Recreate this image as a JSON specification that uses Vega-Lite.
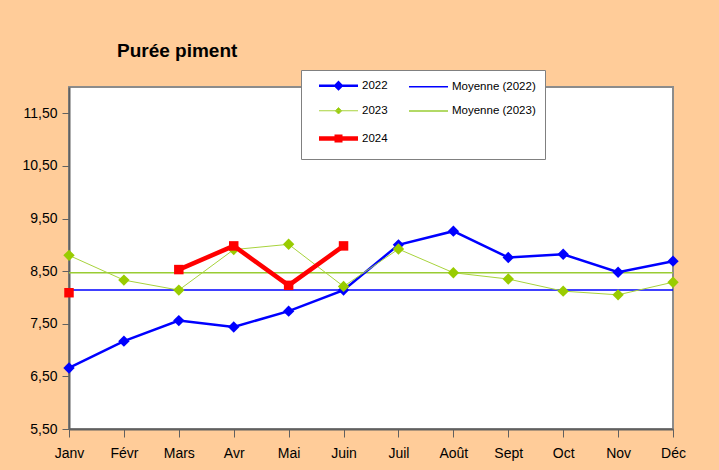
{
  "$schema": "https://vega.github.io/schema/vega-lite/v6.json",
  "autosize": {"type": "none"},
  "padding": {"left": 69, "top": 87, "right": 46, "bottom": 41},
  "width": 604,
  "height": 342,
  "background": "#FFCC99",
  "view": {"fill": "#FFFFFF", "stroke": "#8c8c8c", "strokeWidth": 2},
  "config": {
    "font": "Liberation Sans",
    "view": {"fill": "#FFFFFF", "stroke": "#8c8c8c", "strokeWidth": 2},
    "axis": {"labelFont": "Liberation Sans", "labelColor": "#000000", "labelFontSize": 14, "domainColor": "#606060", "domainWidth": 2, "tickColor": "#606060", "tickWidth": 1, "tickSize": 7, "grid": false, "title": null}
  },
  "title": {
    "text": "Purée piment",
    "anchor": "start",
    "frame": "group",
    "dx": 48,
    "offset": -6,
    "baseline": "alphabetic",
    "font": "Liberation Sans",
    "fontSize": 19,
    "fontWeight": "bold",
    "color": "#000000"
  },
  "datasets": {
    "prices": [
      {"month": "Janv", "series": "2022", "value": 6.66},
      {"month": "Févr", "series": "2022", "value": 7.17},
      {"month": "Mars", "series": "2022", "value": 7.56},
      {"month": "Avr", "series": "2022", "value": 7.44},
      {"month": "Mai", "series": "2022", "value": 7.74},
      {"month": "Juin", "series": "2022", "value": 8.14},
      {"month": "Juil", "series": "2022", "value": 9.00},
      {"month": "Août", "series": "2022", "value": 9.26},
      {"month": "Sept", "series": "2022", "value": 8.76},
      {"month": "Oct", "series": "2022", "value": 8.82},
      {"month": "Nov", "series": "2022", "value": 8.48},
      {"month": "Déc", "series": "2022", "value": 8.69},
      {"month": "Janv", "series": "2023", "value": 8.80},
      {"month": "Févr", "series": "2023", "value": 8.33},
      {"month": "Mars", "series": "2023", "value": 8.14},
      {"month": "Avr", "series": "2023", "value": 8.91},
      {"month": "Mai", "series": "2023", "value": 9.01},
      {"month": "Juin", "series": "2023", "value": 8.21},
      {"month": "Juil", "series": "2023", "value": 8.92},
      {"month": "Août", "series": "2023", "value": 8.47},
      {"month": "Sept", "series": "2023", "value": 8.35},
      {"month": "Oct", "series": "2023", "value": 8.12},
      {"month": "Nov", "series": "2023", "value": 8.05},
      {"month": "Déc", "series": "2023", "value": 8.29},
      {"month": "Janv", "series": "2024", "value": 8.09},
      {"month": "Févr", "series": "2024", "value": null},
      {"month": "Mars", "series": "2024", "value": 8.53},
      {"month": "Avr", "series": "2024", "value": 8.98},
      {"month": "Mai", "series": "2024", "value": 8.23},
      {"month": "Juin", "series": "2024", "value": 8.98}
    ],
    "means": [
      {"series": "Moyenne (2022)", "value": 8.14},
      {"series": "Moyenne (2023)", "value": 8.47}
    ],
    "legend": [
      {"series": "2022"},
      {"series": "Moyenne (2022)"},
      {"series": "2023"},
      {"series": "Moyenne (2023)"},
      {"series": "2024"}
    ]
  },
  "layer": [
    {
      "data": {"name": "means"},
      "transform": [{"filter": "datum.series === 'Moyenne (2022)'"}],
      "mark": {"type": "rule", "color": "#0000FF", "strokeWidth": 1.5},
      "encoding": {
        "y": {"field": "value", "type": "quantitative", "scale": {"domain": [5.5, 12], "nice": false, "zero": false}}
      }
    },
    {
      "data": {"name": "means"},
      "transform": [{"filter": "datum.series === 'Moyenne (2023)'"}],
      "mark": {"type": "rule", "color": "#99CC33", "strokeWidth": 1.5},
      "encoding": {
        "y": {"field": "value", "type": "quantitative"}
      }
    },
    {
      "data": {"name": "prices"},
      "transform": [{"filter": "datum.series === '2022'"}],
      "layer": [
        {"mark": {"type": "line", "color": "#0000FF", "strokeWidth": 2.5}},
        {"mark": {"type": "point", "shape": "diamond", "filled": true, "color": "#0000FF", "size": 130, "opacity": 1}}
      ],
      "encoding": {
        "x": {"field": "month", "type": "ordinal", "sort": ["Janv", "Févr", "Mars", "Avr", "Mai", "Juin", "Juil", "Août", "Sept", "Oct", "Nov", "Déc"], "scale": {"type": "point", "padding": 0, "domain": ["Janv", "Févr", "Mars", "Avr", "Mai", "Juin", "Juil", "Août", "Sept", "Oct", "Nov", "Déc"]}, "axis": {"labelAngle": 0, "labelPadding": 9, "tickSize": 8}},
        "y": {"field": "value", "type": "quantitative", "axis": {"values": [5.5, 6.5, 7.5, 8.5, 9.5, 10.5, 11.5], "labelExpr": "replace(format(datum.value, '.2f'), '.', ',')", "labelPadding": 5}}
      }
    },
    {
      "data": {"name": "prices"},
      "transform": [{"filter": "datum.series === '2023'"}],
      "layer": [
        {"mark": {"type": "line", "color": "#A8D33C", "strokeWidth": 1}},
        {"mark": {"type": "point", "shape": "diamond", "filled": true, "color": "#99CC00", "size": 130, "opacity": 1}}
      ],
      "encoding": {
        "x": {"field": "month", "type": "ordinal", "sort": ["Janv", "Févr", "Mars", "Avr", "Mai", "Juin", "Juil", "Août", "Sept", "Oct", "Nov", "Déc"]},
        "y": {"field": "value", "type": "quantitative"}
      }
    },
    {
      "data": {"name": "prices"},
      "transform": [{"filter": "datum.series === '2024'"}],
      "layer": [
        {"mark": {"type": "line", "color": "#FF0000", "strokeWidth": 4.5, "invalid": "break-paths-filter-domains"}},
        {"mark": {"type": "square", "color": "#FF0000", "size": 90, "opacity": 1, "invalid": "filter"}}
      ],
      "encoding": {
        "x": {"field": "month", "type": "ordinal", "sort": ["Janv", "Févr", "Mars", "Avr", "Mai", "Juin", "Juil", "Août", "Sept", "Oct", "Nov", "Déc"]},
        "y": {"field": "value", "type": "quantitative"}
      }
    },
    {
      "data": {"name": "legend"},
      "mark": {"type": "point", "filled": true},
      "encoding": {
        "opacity": {"value": 0},
        "fill": {"field": "series", "type": "nominal", "scale": {"domain": ["2022", "Moyenne (2022)", "2023", "Moyenne (2023)", "2024"], "range": ["#0000FF", "#0000FF", "#99CC00", "#99CC33", "#FF0000"]}, "legend": {
          "orient": "none", "legendX": 232, "legendY": -17, "title": null, "columns": 2, "direction": "horizontal",
          "fillColor": "white", "strokeColor": "#808080", "padding": 9,
          "labelFont": "Liberation Sans", "labelFontSize": 11.5, "labelColor": "#000000",
          "symbolSize": 100, "symbolOffset": 21, "labelOffset": 16, "rowPadding": 10, "columnPadding": 12,
          "encode": {"symbols": {"update": {"opacity": {"value": 1}}}}
        }},
        "stroke": {"field": "series", "type": "nominal", "scale": {"domain": ["2022", "Moyenne (2022)", "2023", "Moyenne (2023)", "2024"], "range": ["#0000FF", "#0000FF", "#A8D33C", "#99CC33", "#FF0000"]}},
        "shape": {"field": "series", "type": "nominal", "scale": {"domain": ["2022", "Moyenne (2022)", "2023", "Moyenne (2023)", "2024"], "range": [
          "M-3.9,0H3.9M0,-0.65L0.65,0L0,0.65L-0.65,0Z",
          "M-3.9,0H3.9",
          "M-3.9,0H3.9M0,-0.65L0.65,0L0,0.65L-0.65,0Z",
          "M-3.9,0H3.9",
          "M-3.9,0H3.9M-0.35,-0.35H0.35V0.35H-0.35Z"
        ]}},
        "strokeWidth": {"field": "series", "type": "nominal", "scale": {"type": "ordinal", "domain": ["2022", "Moyenne (2022)", "2023", "Moyenne (2023)", "2024"], "range": [2.5, 1.5, 1, 1.5, 4.5]}}
      }
    }
  ]
}
